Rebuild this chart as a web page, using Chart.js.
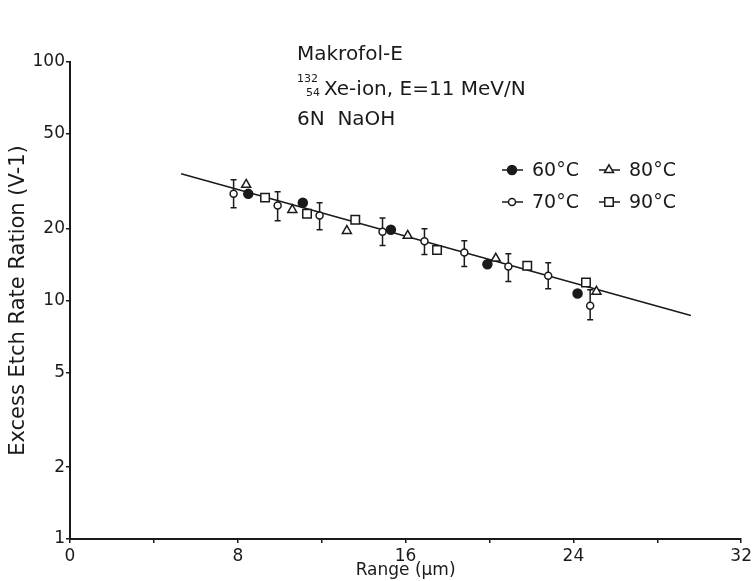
<!DOCTYPE html>
<html>
<head>
<meta charset="utf-8">
<script src="https://cdn.jsdelivr.net/npm/chart.js@4.4.1/dist/chart.umd.min.js"></script>
<style>
  html, body { margin: 0; padding: 0; background: #fff; }
  canvas { display: block; }
</style>
</head>
<body>
<canvas id="chart" width="755" height="581"></canvas>
<script>
// 60°C (filled circles)
const range60 = [8.5, 11.1, 15.3, 19.9, 24.2];
const ratio60 = [28.0, 25.7, 19.8, 14.2, 10.7];
// 70°C (open circles, with error bars)
const range70 = [7.8, 9.9, 11.9, 14.9, 16.9, 18.8, 20.9, 22.8, 24.8];
const ratio70 = [28.0, 25.0, 22.7, 19.4, 17.7, 15.9, 13.9, 12.7, 9.5];
const ratio70Low = [24.5, 21.6, 19.8, 17.0, 15.6, 13.9, 12.0, 11.2, 8.3];
const ratio70High = [32.1, 28.6, 25.7, 22.2, 20.0, 17.8, 15.7, 14.4, 11.1];
// 80°C (open triangles)
const range80 = [8.4, 10.6, 13.2, 16.1, 20.3, 25.1];
const ratio80 = [30.6, 24.0, 19.6, 18.7, 15.0, 10.9];
// 90°C (open squares)
const range90 = [9.3, 11.3, 13.6, 17.5, 21.8, 24.6];
const ratio90 = [27.0, 23.1, 21.8, 16.3, 14.0, 11.9];
// fitted line
const fitRange = [5.3, 29.6];
const fitRatio = [34.0, 8.65];

const xLabelTicks = [0, 8, 16, 24, 32];
const yTicks = [1, 2, 5, 10, 20, 50, 100];

const ink = '#1a1a1a';
const font = 'DejaVu Sans';

function pts(xs, ys) {
    return xs.map((x, i) => ({x: x, y: ys[i]}));
}

function markerSet(label, xs, ys, style, radius, fill) {
    return {
        type: 'scatter',
        label: label,
        data: pts(xs, ys),
        pointStyle: style,
        pointRadius: radius,
        pointHoverRadius: radius,
        pointBackgroundColor: fill,
        pointBorderColor: ink,
        pointBorderWidth: 1.5,
        showLine: false
    };
}

// error bars for the 70°C series, under the markers
const errorBars = {
    id: 'errorBars',
    beforeDatasetsDraw(chart) {
        const ctx = chart.ctx, xs = chart.scales.x, ys = chart.scales.y;
        ctx.save();
        ctx.strokeStyle = ink;
        ctx.lineWidth = 1.5;
        range70.forEach((r, i) => {
            const px = xs.getPixelForValue(r);
            const top = ys.getPixelForValue(ratio70High[i]);
            const bot = ys.getPixelForValue(ratio70Low[i]);
            ctx.beginPath();
            ctx.moveTo(px, top); ctx.lineTo(px, bot);
            ctx.moveTo(px - 3, top); ctx.lineTo(px + 3, top);
            ctx.moveTo(px - 3, bot); ctx.lineTo(px + 3, bot);
            ctx.stroke();
        });
        ctx.restore();
    }
};

// title block and 2x2 legend
const annotations = {
    id: 'annotations',
    afterDraw(chart) {
        const ctx = chart.ctx;
        ctx.save();
        ctx.fillStyle = ink;
        ctx.textBaseline = 'alphabetic';
        ctx.textAlign = 'left';
        ctx.font = '20px "' + font + '"';
        ctx.fillText('Makrofol-E', 297, 60);
        ctx.fillText('Xe-ion, E=11 MeV/N', 324, 95);
        ctx.fillText('6N  NaOH', 297, 125);
        ctx.font = '11px "' + font + '"';
        ctx.fillText('132', 297, 82);
        ctx.fillText('54', 306, 96);

        const cols = [512, 609], rows = [170, 202];
        const order = [[0, 0, 0], [2, 1, 0], [1, 0, 1], [3, 1, 1]];
        ctx.font = '19px "' + font + '"';
        ctx.textBaseline = 'middle';
        order.forEach(([di, c, r]) => {
            const ds = chart.data.datasets[di];
            const mx = cols[c], my = rows[r];
            ctx.strokeStyle = ink;
            ctx.lineWidth = 1.5;
            ctx.beginPath();
            ctx.moveTo(mx - 10, my); ctx.lineTo(mx + 11, my);
            ctx.stroke();
            ctx.fillStyle = ds.pointBackgroundColor;
            Chart.helpers.drawPoint(ctx, {
                pointStyle: ds.pointStyle,
                radius: ds.pointRadius,
                rotation: 0,
                borderWidth: 1.5
            }, mx, my);
            ctx.fillStyle = ink;
            ctx.fillText(ds.label, mx + 20, my + 1);
        });
        ctx.restore();
    }
};

new Chart(document.getElementById('chart'), {
    data: {
        datasets: [
            markerSet('60°C', range60, ratio60, 'circle', 4.5, ink),
            markerSet('70°C', range70, ratio70, 'circle', 3.5, '#fff'),
            markerSet('80°C', range80, ratio80, 'triangle', 5.2, '#fff'),
            markerSet('90°C', range90, ratio90, 'rect', 6, '#fff'),
            {
                type: 'line',
                label: 'fit',
                data: pts(fitRange, fitRatio),
                borderColor: ink,
                borderWidth: 1.5,
                pointRadius: 0,
                fill: false
            }
        ]
    },
    options: {
        responsive: false,
        animation: false,
        layout: { padding: { left: 0, right: 13, top: 62, bottom: 0 } },
        plugins: {
            legend: { display: false },
            tooltip: { enabled: false }
        },
        scales: {
            x: {
                type: 'linear',
                min: 0,
                max: 32,
                afterFit(scale) { scale.height = 42; },
                ticks: {
                    stepSize: 4,
                    autoSkip: false,
                    maxRotation: 0,
                    padding: 3,
                    color: ink,
                    font: { family: font, size: 17 },
                    callback: v => xLabelTicks.includes(v) ? String(v) : ''
                },
                grid: { drawOnChartArea: false, drawTicks: true, tickLength: 4, color: ink, lineWidth: 1.5 },
                border: { display: true, color: ink, width: 2 },
                title: {
                    display: true,
                    text: 'Range (µm)',
                    color: ink,
                    font: { family: font, size: 17 },
                    padding: { top: 0, bottom: 0 }
                }
            },
            y: {
                type: 'logarithmic',
                min: 1,
                max: 100,
                afterFit(scale) { scale.width = 70; },
                afterBuildTicks(scale) { scale.ticks = yTicks.map(v => ({value: v})); },
                ticks: {
                    padding: 1,
                    color: ink,
                    font: { family: font, size: 17 },
                    callback: v => String(v)
                },
                grid: { drawOnChartArea: false, drawTicks: true, tickLength: 4, color: ink, lineWidth: 1.5 },
                border: { display: true, color: ink, width: 2 },
                title: {
                    display: true,
                    text: 'Excess Etch Rate Ration (V-1)',
                    color: ink,
                    font: { family: font, size: 21 },
                    padding: { top: 6, bottom: 0 }
                }
            }
        }
    },
    plugins: [errorBars, annotations]
});
</script>
</body>
</html>
